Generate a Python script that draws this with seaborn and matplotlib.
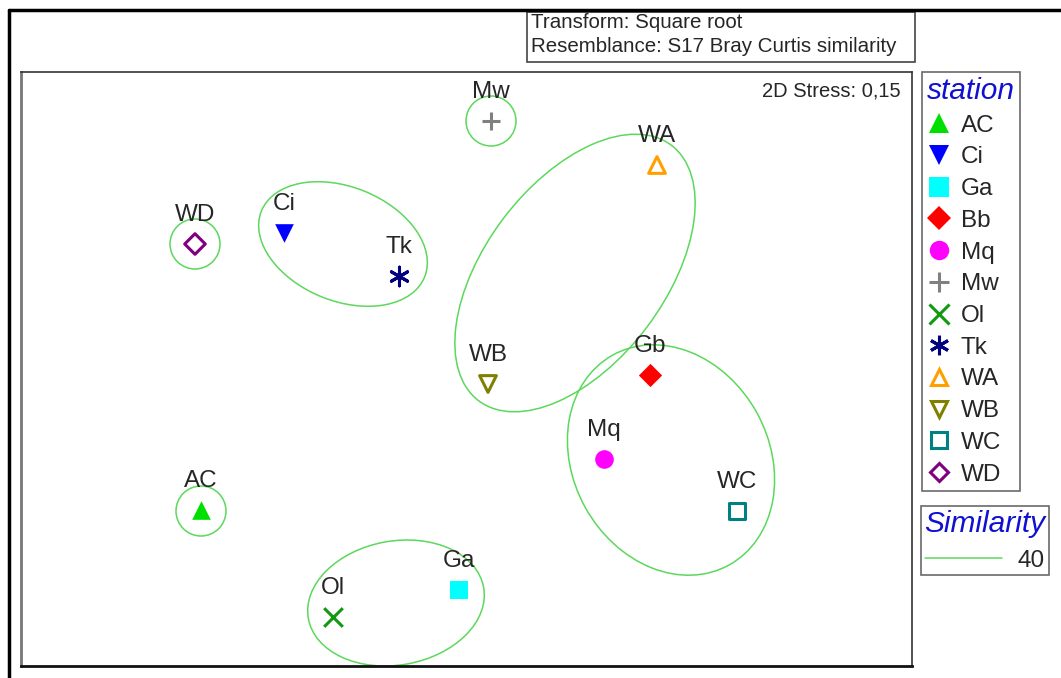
import seaborn as sns
import matplotlib.pyplot as plt
import matplotlib.lines as mlines
from matplotlib.patches import Ellipse, Rectangle

# nMDS coordinates per station (plot units)
stations = ["AC", "Ci", "Ga", "Bb", "Mq", "Mw", "Ol", "Tk", "WA", "WB", "WC", "WD"]
point_labels = ["AC", "Ci", "Ga", "Gb", "Mq", "Mw", "Ol", "Tk", "WA", "WB", "WC", "WD"]
mds1 = [180, 263, 438, 629, 583, 470, 312, 378, 636, 467, 716, 174]
mds2 = [156, 433, 76, 291, 207, 545, 49, 390, 501, 282, 155, 422]

colors = ["#00e000", "#0000ff", "#00ffff", "#ff0000", "#ff00ff", "#808080",
          "#109a10", "#000080", "#ffa000", "#808000", "#008080", "#800080"]
markers = ["^", "v", "s", "D", "o", "+", "x", (6, 2, 0), "^", "v", "s", "D"]
filled = [True, True, True, True, True, False, False, False, False, False, False, False]
line_art = [False, False, False, False, False, True, True, True, False, False, False, False]

# 40% similarity contours
sim_cx = [470, 174, 180, 322, 554, 650, 375]
sim_cy = [545, 422, 155, 422, 393, 206, 63]
sim_w = [50, 50, 50, 176, 320, 240, 178]
sim_h = [50, 50, 50, 114, 180, 196, 124]
sim_angle = [0, 0, 0, -22, 53, -61, 10]

sns.set_style("white")
plt.rcParams['font.family'] = ['Liberation Sans', 'DejaVu Sans']

fig = plt.figure(figsize=(10.61, 6.78), dpi=100)
ax = fig.add_axes([21 / 1061, 12 / 678, 891 / 1061, 594 / 678])

for cx, cy, w, h, a in zip(sim_cx, sim_cy, sim_w, sim_h, sim_angle):
    ax.add_patch(Ellipse((cx, cy), w, h, angle=a, fill=False,
                         edgecolor="#5cd85c", linewidth=1.1, zorder=1))

for i, st in enumerate(stations):
    size = 140 if markers[i] == "D" else 180
    kw = dict(marker=markers[i], s=size, zorder=3, label=st)
    if line_art[i]:
        kw.update(color=colors[i], linewidth=2.2)
    elif filled[i]:
        kw.update(color=colors[i], edgecolor=colors[i], linewidth=0)
    else:
        kw.update(facecolor="none", edgecolor=colors[i], linewidth=2.2,
                  s=110 if markers[i] == "D" else 145)
    sns.scatterplot(x=[mds1[i]], y=[mds2[i]], ax=ax, legend=False, **kw)
    ax.annotate(point_labels[i], (mds1[i], mds2[i]), xytext=(0, 21),
                textcoords="offset points", ha="center", va="center", fontsize=17.5)

ax.set_xlim(0, 891)
ax.set_ylim(0, 594)
ax.set_xticks([])
ax.set_yticks([])
ax.set_xlabel("")
ax.set_ylabel("")
for side in ax.spines.values():
    side.set_edgecolor("#333333")
    side.set_linewidth(1.2)
ax.spines["bottom"].set_linewidth(2)
ax.spines["bottom"].set_edgecolor("#111111")
ax.spines["left"].set_linewidth(2)
ax.spines["left"].set_edgecolor("#777777")

ax.text(0.987, 0.968, "2D Stress: 0,15", transform=ax.transAxes,
        ha="right", va="center", fontsize=14.5)

# station legend
handles = []
for i, st in enumerate(stations):
    ms = 12 if markers[i] == "D" else 14
    if line_art[i]:
        h = mlines.Line2D([], [], linestyle="None", marker=markers[i], color=colors[i],
                          markersize=ms, markeredgewidth=2.2)
    elif filled[i]:
        h = mlines.Line2D([], [], linestyle="None", marker=markers[i], color=colors[i],
                          markersize=ms, markeredgewidth=0)
    else:
        h = mlines.Line2D([], [], linestyle="None", marker=markers[i], markerfacecolor="none",
                          markeredgecolor=colors[i], markersize=ms - 3, markeredgewidth=2.2)
    handles.append(h)

leg1 = fig.legend(handles, stations, title="station", loc="upper left",
                  bbox_to_anchor=(922 / 1061, 1 - 72 / 678), fontsize=17.5,
                  frameon=True, fancybox=False, edgecolor="#444444",
                  handlelength=1.0, handletextpad=0.4, labelspacing=0.4,
                  borderpad=0.2, borderaxespad=0, alignment="left",
                  title_fontproperties={"size": 21.5, "style": "italic"})
leg1.get_title().set_color("#1010d0")
leg1.get_frame().set_linewidth(1.2)

sim_handle = mlines.Line2D([], [], color="#5cd85c", linewidth=1.1)
leg2 = fig.legend([sim_handle], ["40"], title="Similarity", loc="upper left",
                  bbox_to_anchor=(921 / 1061, 1 - 506 / 678), fontsize=17.5,
                  frameon=True, fancybox=False, edgecolor="#444444",
                  handlelength=3.2, handletextpad=0.6, borderpad=0.15,
                  borderaxespad=0, alignment="left",
                  title_fontproperties={"size": 21.5, "style": "italic"})
leg2.get_title().set_color("#1010d0")
leg2.get_frame().set_linewidth(1.2)

# transform / resemblance box
fig.patches.append(Rectangle((527 / 1061, 1 - 62 / 678), 388 / 1061, 50 / 678,
                             transform=fig.transFigure, fill=False,
                             edgecolor="#444444", linewidth=1.2))
fig.text(531 / 1061, 1 - 22 / 678, "Transform: Square root", fontsize=14.8, va="center")
fig.text(531 / 1061, 1 - 47 / 678, "Resemblance: S17 Bray Curtis similarity",
         fontsize=14.8, va="center")

# outer frame (top and left edges)
fig.lines.append(mlines.Line2D([9 / 1061, 1], [1 - 10 / 678, 1 - 10 / 678],
                               transform=fig.transFigure, color="black", linewidth=2.5))
fig.lines.append(mlines.Line2D([9 / 1061, 9 / 1061], [0, 1 - 10 / 678],
                               transform=fig.transFigure, color="black", linewidth=2.5))

fig.savefig("out.png", dpi=100)
